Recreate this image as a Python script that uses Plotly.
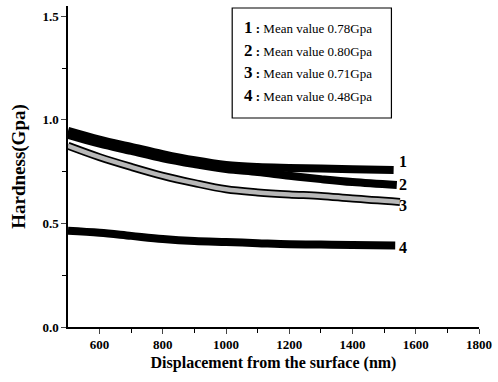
import plotly.graph_objects as go

# ---- data ----
x1 = [500, 600, 700, 800, 900, 1000, 1100, 1200, 1300, 1400, 1530]
s1 = [0.947, 0.905, 0.870, 0.835, 0.805, 0.782, 0.772, 0.768, 0.765, 0.762, 0.758]
x2 = [500, 600, 700, 800, 900, 1000, 1100, 1200, 1300, 1400, 1540]
s2 = [0.928, 0.885, 0.850, 0.815, 0.787, 0.763, 0.748, 0.730, 0.714, 0.700, 0.686]
x3 = [500, 600, 700, 800, 900, 1000, 1100, 1200, 1300, 1400, 1550]
s3 = [0.875, 0.820, 0.773, 0.730, 0.695, 0.665, 0.650, 0.640, 0.633, 0.620, 0.604]
x4 = [500, 600, 700, 800, 900, 1000, 1100, 1200, 1300, 1400, 1535]
s4 = [0.465, 0.455, 0.440, 0.425, 0.415, 0.410, 0.405, 0.400, 0.398, 0.396, 0.394]

series_ids = ["1", "2", "3", "4"]
mean_values = ["0.78", "0.80", "0.71", "0.48"]
label_y = [0.797, 0.686, 0.589, 0.386]

x_ticks = [600, 800, 1000, 1200, 1400, 1600, 1800]
y_ticks = [0.0, 0.5, 1.0, 1.5]
y_ticktext = ["0.0", "0.5", "1.0", "1.5"]

SERIF = "Liberation Serif, Times New Roman, serif"
BOLD = dict(family=SERIF, size=13, color="black", weight="bold")

fig = go.Figure()
for xs, ys in [(x1, s1), (x2, s2), (x3, s3)]:
    fig.add_trace(go.Scatter(x=xs, y=ys, mode="lines", line=dict(color="black", width=8, shape="spline"),
                             showlegend=False, hoverinfo="skip"))
fig.add_trace(go.Scatter(x=x3, y=s3, mode="lines", line=dict(color="#b8b8b8", width=4.5, shape="spline"),
                         showlegend=False, hoverinfo="skip"))
fig.add_trace(go.Scatter(x=x4, y=s4, mode="lines", line=dict(color="black", width=8, shape="spline"),
                         showlegend=False, hoverinfo="skip"))

# end labels
for sid, ly in zip(series_ids, label_y):
    fig.add_annotation(x=1560, y=ly, xref="x", yref="y", text="<b>%s</b>" % sid,
                       showarrow=False, font=dict(family=SERIF, size=16, color="black"))

# legend box
fig.add_shape(type="rect", xref="paper", yref="paper",
              x0=(233 - 68) / 413, x1=(393 - 68) / 413,
              y0=(327 - 118) / 321, y1=(327 - 8) / 321,
              line=dict(color="black", width=1.2), fillcolor="white")
row_y = [27, 50, 72, 95]
for sid, mv, ry in zip(series_ids, mean_values, row_y):
    fig.add_annotation(x=(243 - 68) / 413, y=(327 - ry) / 321, xref="paper", yref="paper",
                       xanchor="left", yanchor="middle", showarrow=False,
                       text="<b><span style='font-size:17px'>%s</span> :</b> Mean value %sGpa" % (sid, mv),
                       font=dict(family=SERIF, size=13, color="black"))

fig.update_layout(
    width=498, height=382,
    margin=dict(l=68, r=17, t=6, b=55),
    paper_bgcolor="white", plot_bgcolor="white",
    font=dict(family=SERIF, color="black"),
    xaxis=dict(range=[500, 1800], tickvals=x_ticks, ticks="outside", ticklen=5, tickwidth=1.2,
               showline=True, linecolor="black", linewidth=1.5, showgrid=False, zeroline=False,
               tickfont=BOLD,
               minor=dict(tickvals=[700, 900, 1100, 1300, 1500, 1700], ticks="outside", ticklen=4, tickcolor="black"),
               title=dict(text="<b>Displacement from the surface (nm)</b>", font=dict(family=SERIF, size=16), standoff=5)),
    yaxis=dict(range=[0, 1.55], tickvals=y_ticks, ticktext=y_ticktext,
               ticks="outside", ticklen=5, tickwidth=1.2,
               showline=True, linecolor="black", linewidth=1.5, showgrid=False, zeroline=False,
               tickfont=BOLD,
               minor=dict(tickvals=[0.25, 0.75, 1.25], ticks="outside", ticklen=4, tickcolor="black"),
               title=dict(text="<b>Hardness(Gpa)</b>", font=dict(family=SERIF, size=19), standoff=12)),
)

fig.write_html("out.html", config={"displayModeBar": False},
               post_script="document.body.style.margin='0';document.body.style.overflow='hidden';")
